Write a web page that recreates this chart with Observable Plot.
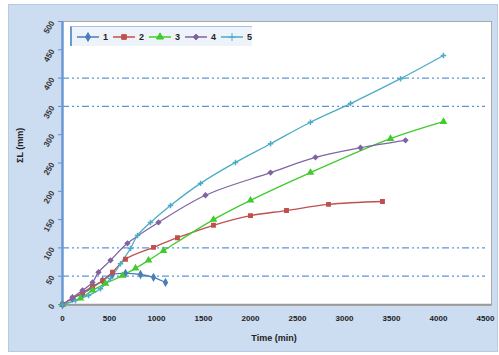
<!DOCTYPE html>
<html><head><meta charset="utf-8">
<script src="https://cdn.jsdelivr.net/npm/d3@7"></script>
<script src="https://cdn.jsdelivr.net/npm/@observablehq/plot@0.6"></script>
<style>
body{margin:0;background:#fff;font-family:"Liberation Sans",Arial,sans-serif;}
#wrap{position:relative;width:499px;height:355px;}
#bg{position:absolute;left:8px;top:4px;width:490px;height:348px;background:#ccdcf1;border:1px solid #b8c9e0;box-sizing:border-box;}
#chart{position:absolute;left:0;top:0;}
#legend{position:absolute;left:70px;top:26px;height:19px;width:180px;background:#eef3f9;border-left:2px solid #6a98d4;border-top:1px solid #a9c1e4;display:flex;align-items:center;font-size:9px;font-weight:bold;color:#222;}
#legend .it{display:flex;align-items:center;margin-left:4px;}
</style></head><body>
<div id="wrap"><div id="bg"></div><div id="chart"></div><div id="legend"></div></div>
<script>
const seriesNames = ["1","2","3","4","5"];
const colors = ["#4a7ebb","#c0504d","#3fcc2c","#8064a2","#4bacc6"];
const symbols = ["diamond","square","triangle","diamond2","plus"];
const xTicks = [0,500,1000,1500,2000,2500,3000,3500,4000,4500];
const yTicks = [0,50,100,150,200,250,300,350,400,450,500];
const refLines = [50,100,350,400];

const x1 = [0,106,213,319,426,532,670,830,968,1096];
const y1 = [0,11,19,30,42,53,55,53,48,39];
const x2 = [0,106,213,319,426,532,670,968,1223,1606,2000,2383,2830,3404];
const y2 = [0,11,21,32,42,57,80,101,118,140,157,166,177,182];
const x3 = [0,191,319,457,638,777,915,1074,1606,2000,2638,3489,4053];
const y3 = [0,11,25,37,51,64,78,95,150,184,233,293,323];
const x4 = [0,106,213,319,383,511,691,1021,1521,2213,2691,3170,3649];
const y4 = [0,12,25,39,57,78,108,145,193,233,260,277,290];
const x5 = [0,138,277,404,511,617,723,798,936,1149,1468,1840,2213,2638,3064,3596,4053];
const y5 = [0,7,16,28,46,72,99,122,145,175,214,251,284,322,355,399,440];

const xs=[x1,x2,x3,x4,x5], ys=[y1,y2,y3,y4,y5];
const data = [];
xs.forEach((xa,i)=>xa.forEach((xv,j)=>data.push({s:seriesNames[i],x:xv,y:ys[i][j]})));

const plot = Plot.plot({
  width:499, height:355,
  marginLeft:62, marginRight:14, marginTop:21, marginBottom:51,
  style:{background:"transparent",fontFamily:"Liberation Sans, Arial, sans-serif"},
  x:{domain:[0,4500], ticks:xTicks, label:null},
  y:{domain:[0,500], ticks:yTicks, label:null},
  color:{domain:seriesNames, range:colors},
  symbol:{domain:seriesNames, range:symbols},
  marks:[
    Plot.frame({fill:"white", stroke:"#a8a8a8", insetRight:-6, insetBottom:-1}),
    Plot.ruleY(refLines,{stroke:"#5b95d8", strokeWidth:1.2, strokeDasharray:"7,3,2,3,2,3"}),
    Plot.axisY({ticks:yTicks, tickFormat:d3.format("d"), tickSize:4, tickPadding:6, tickRotate:-60, fontSize:8, fontWeight:"bold", stroke:"#5b8fd0", fill:"#333", label:null}),
    Plot.axisX({ticks:xTicks, tickFormat:d3.format("d"), tickSize:0, tickPadding:11, fontSize:8, fontWeight:"bold", fill:"#222", label:null}),
    Plot.ruleX([0],{stroke:"#6a98d4", strokeWidth:2.5}),
    Plot.ruleY([0],{stroke:"#9a9a9a", strokeWidth:1.5, insetRight:-6}),
    Plot.line(data,{x:"x", y:"y", z:"s", stroke:"s", strokeWidth:1.3, curve:"catmull-rom"}),
    Plot.dot(data,{x:"x", y:"y", symbol:"s", fill:"s", stroke:"s", r:1.9}),
    Plot.text(["Time (min)"],{frameAnchor:"bottom", dy:36, fontSize:9, fontWeight:"bold", fill:"#222"}),
    Plot.text(["ΣL (mm)"],{frameAnchor:"left", dx:-42, rotate:-90, fontSize:9, fontWeight:"bold", fill:"#222"})
  ]
});
document.getElementById("chart").appendChild(plot);

const leg = document.getElementById("legend");
seriesNames.forEach((n,i)=>{
  const it = document.createElement("div"); it.className="it";
  const sym = d3.symbol(d3["symbol"+({diamond:"Diamond",square:"Square",triangle:"Triangle",diamond2:"Diamond2",plus:"Plus"}[symbols[i]])], 22)();
  it.innerHTML = `<svg width="24" height="10"><line x1="1" x2="23" y1="5" y2="5" stroke="${colors[i]}" stroke-width="1.5"/><path d="${sym}" transform="translate(12,5)" fill="${colors[i]}" stroke="${colors[i]}"/></svg><span style="margin-left:3px">${n}</span>`;
  leg.appendChild(it);
});
</script>
</body></html>
